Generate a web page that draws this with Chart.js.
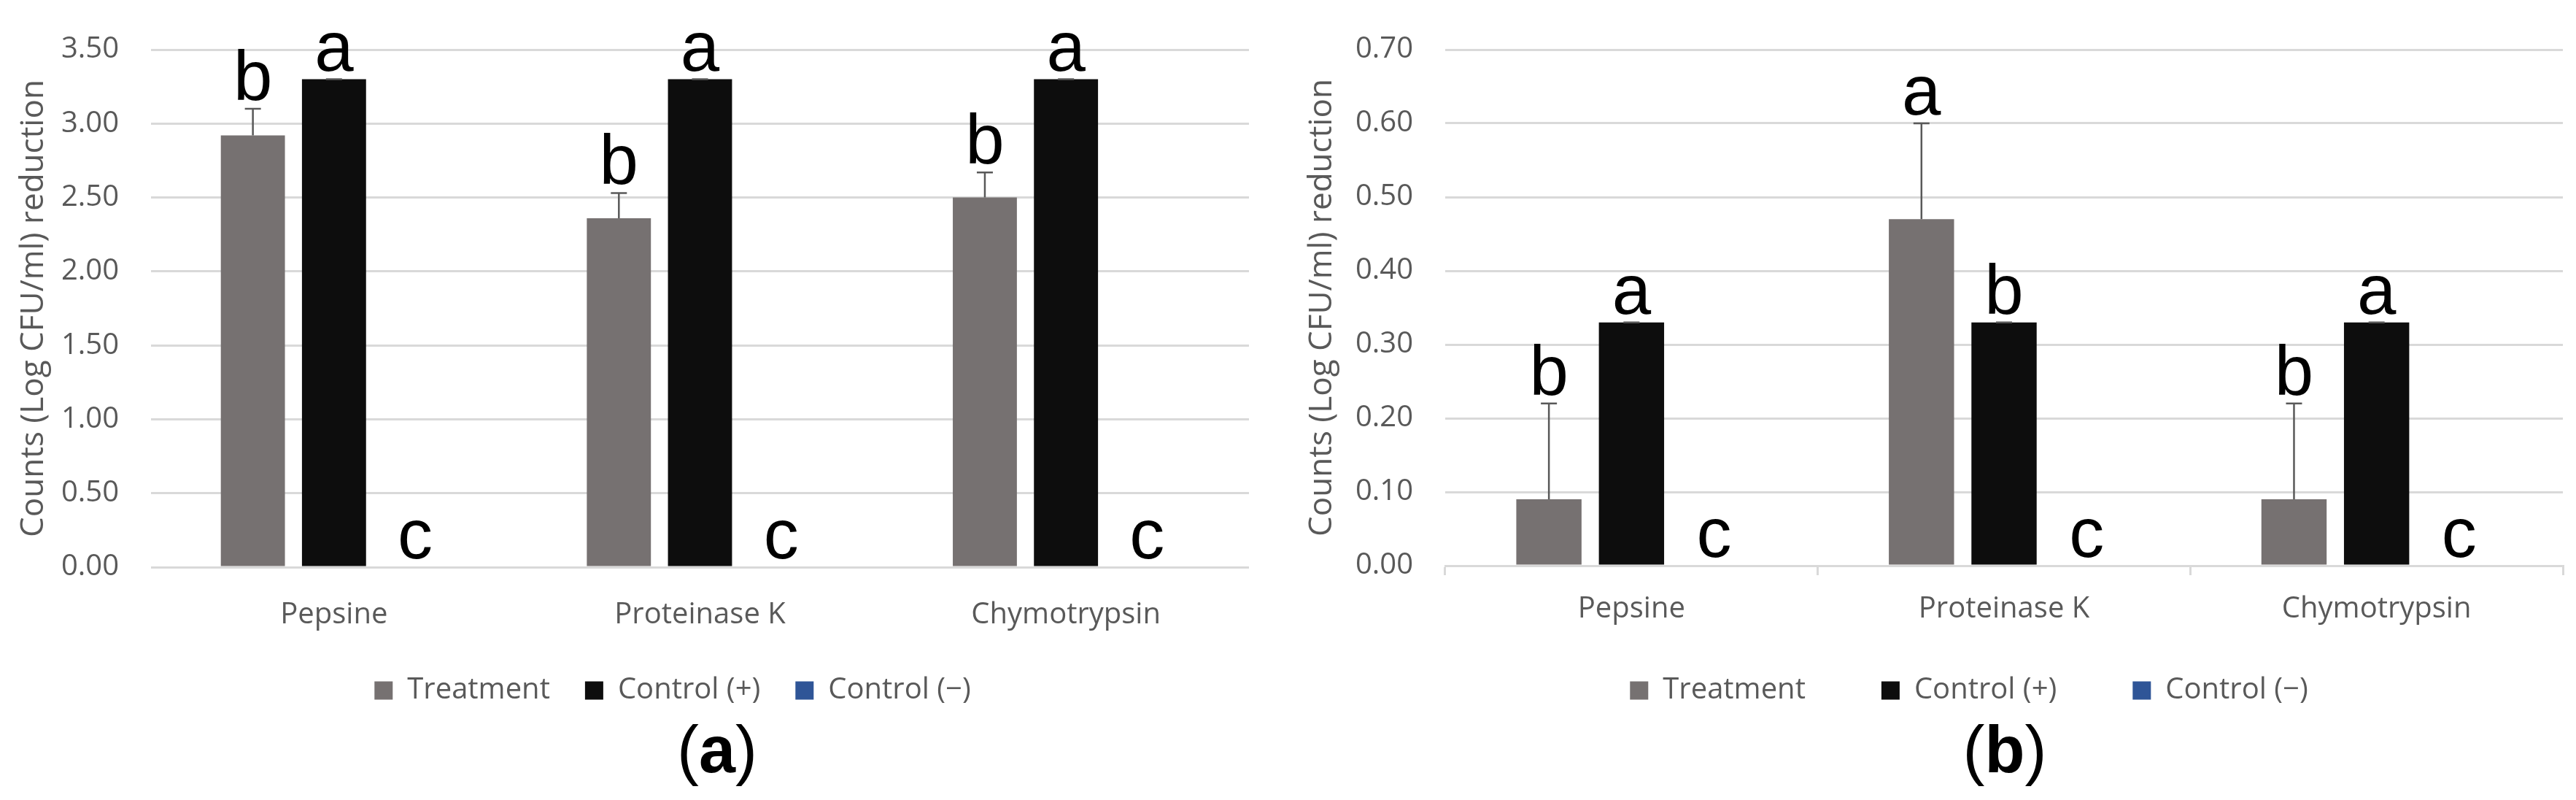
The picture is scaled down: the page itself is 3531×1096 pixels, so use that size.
<!DOCTYPE html>
<html>
<head>
<meta charset="utf-8">
<script src="https://cdn.jsdelivr.net/npm/chart.js@4.4.1/dist/chart.umd.min.js"></script>
<style>
  html, body { margin: 0; background: #fff; }
  body { width: 3531px; height: 1096px; position: relative; overflow: hidden; }
  canvas { position: absolute; top: 0; }
  #chartA { left: 0; }
  #chartB { left: 1765px; }
  .panel {
    position: absolute; top: 982px; transform: translateX(-50%);
    font-family: 'Liberation Sans', Arial, sans-serif; font-size: 90px; line-height: 1; color: #000;
  }
</style>
</head>
<body>
<canvas id="chartA" width="1844" height="976"></canvas>
<canvas id="chartB" width="1868" height="976"></canvas>
<div class="panel" style="left:983px">(<b>a</b>)</div>
<div class="panel" style="left:2748px">(<b>b</b>)</div>
<script>
// shared
const categories = ['Pepsine', 'Proteinase K', 'Chymotrypsin'];
const seriesNames = ['Treatment', 'Control (+)', 'Control (\u2212)'];
const seriesColors = ['#767171', '#0d0d0d', '#2f5597'];
const yTitle = 'Counts (Log CFU/ml) reduction';

// panel (a)
const yTicksA = [0, 0.5, 1, 1.5, 2, 2.5, 3, 3.5];
const treatmentA = [2.92, 2.36, 2.50];
const treatmentErrA = [0.18, 0.17, 0.17];
const controlPosA = [3.30, 3.30, 3.30];
const controlPosErrA = [0, 0, 0];
const controlNegA = [0, 0, 0];
const treatmentLettersA = ['b', 'b', 'b'];
const controlPosLettersA = ['a', 'a', 'a'];
const controlNegLettersA = ['c', 'c', 'c'];

// panel (b)
const yTicksB = [0, 0.1, 0.2, 0.3, 0.4, 0.5, 0.6, 0.7];
const treatmentB = [0.09, 0.47, 0.09];
const treatmentErrB = [0.13, 0.13, 0.13];
const controlPosB = [0.33, 0.33, 0.33];
const controlPosErrB = [0, 0, 0];
const controlNegB = [0, 0, 0];
const treatmentLettersB = ['b', 'a', 'b'];
const controlPosLettersB = ['a', 'b', 'a'];
const controlNegLettersB = ['c', 'c', 'c'];

const grey = '#595959';
const gridColor = '#d9d9d9';
const textFont = { family: '"Open Sans", sans-serif', size: 40 };

// error bars drawn from the y scale
const errorBars = {
  id: 'errorBars',
  afterDatasetsDraw(chart) {
    const { ctx } = chart;
    const y = chart.scales.y;
    chart.data.datasets.forEach((ds, i) => {
      if (!ds.errors) return;
      chart.getDatasetMeta(i).data.forEach((bar, j) => {
        const err = ds.errors[j];
        if (err == null) return;
        const yBase = y.getPixelForValue(ds.data[j]);
        const yTop = y.getPixelForValue(ds.data[j] + err);
        ctx.save();
        ctx.strokeStyle = grey;
        ctx.lineWidth = 2.5;
        ctx.beginPath();
        ctx.moveTo(bar.x, yBase);
        ctx.lineTo(bar.x, yTop);
        ctx.moveTo(bar.x - 11, yTop);
        ctx.lineTo(bar.x + 11, yTop);
        ctx.stroke();
        ctx.restore();
      });
    });
  }
};

// significance letters above each bar
const sigLetters = {
  id: 'sigLetters',
  afterDatasetsDraw(chart) {
    const { ctx } = chart;
    const y = chart.scales.y;
    ctx.save();
    ctx.fillStyle = '#000';
    ctx.font = '96px "Liberation Sans", Arial, sans-serif';
    ctx.textAlign = 'center';
    ctx.textBaseline = 'alphabetic';
    chart.data.datasets.forEach((ds, i) => {
      if (!ds.letters) return;
      chart.getDatasetMeta(i).data.forEach((bar, j) => {
        const top = ds.data[j] + (ds.errors && ds.errors[j] != null ? ds.errors[j] : 0);
        ctx.fillText(ds.letters[j], bar.x, y.getPixelForValue(top) - 12);
      });
    });
    ctx.restore();
  }
};

// the category labels sit lower than the x box leaves room for; widen its clip
const labelRoom = {
  id: 'labelRoom',
  afterLayout(chart) {
    const x = chart.scales.x;
    x.bottom = x.top + 120;
  }
};

function makePanel(id, p) {
  const datasets = [
    { label: seriesNames[0], data: p.treatment, errors: p.treatmentErr, letters: p.treatmentLetters },
    { label: seriesNames[1], data: p.controlPos, errors: p.controlPosErr, letters: p.controlPosLetters },
    { label: seriesNames[2], data: p.controlNeg, errors: null, letters: p.controlNegLetters }
  ].map((d, i) => Object.assign(d, {
    backgroundColor: seriesColors[i],
    borderWidth: 0,
    categoryPercentage: 0.665,
    barPercentage: 0.79
  }));

  return new Chart(document.getElementById(id), {
    type: 'bar',
    data: { labels: categories, datasets },
    plugins: [errorBars, sigLetters, labelRoom],
    options: {
      responsive: false,
      devicePixelRatio: 1,
      animation: false,
      layout: { padding: { top: p.padTop, right: 0, left: 0, bottom: 0 } },
      plugins: {
        tooltip: { enabled: false },
        legend: {
          position: 'bottom',
          labels: {
            boxWidth: 25,
            boxHeight: 25,
            padding: p.legendPad,
            color: grey,
            font: textFont
          }
        }
      },
      scales: {
        x: {
          grid: p.xTicks
            ? { display: true, drawOnChartArea: false, drawTicks: true, tickLength: 13, color: gridColor, lineWidth: 3, offset: true }
            : { display: false },
          border: p.xTicks ? { display: true, color: gridColor, width: 3 } : { display: false },
          ticks: { color: grey, font: textFont, padding: p.xLabelPad, maxRotation: 0 },
          afterFit(s) { s.height = p.xHeight; }
        },
        y: {
          min: p.yTicks[0],
          max: p.yTicks[p.yTicks.length - 1],
          grid: { color: gridColor, lineWidth: 3, drawTicks: false },
          border: { display: false },
          ticks: {
            stepSize: p.yTicks[1] - p.yTicks[0],
            color: grey,
            font: textFont,
            padding: 44,
            callback: v => Number(v).toFixed(2)
          },
          title: {
            display: true,
            text: yTitle,
            color: grey,
            font: { family: '"Open Sans", sans-serif', size: 44 },
            padding: { top: p.titlePad, bottom: 0 }
          },
          afterFit(s) { s.width = p.yWidth; }
        },
        // empty right-hand box so the legend centres like the original
        pad: {
          type: 'linear',
          position: 'right',
          display: true,
          grid: { display: false },
          border: { display: false },
          ticks: { display: false },
          afterFit(s) { s.width = p.rightPad; }
        }
      }
    }
  });
}

makePanel('chartA', {
  treatment: treatmentA, treatmentErr: treatmentErrA, treatmentLetters: treatmentLettersA,
  controlPos: controlPosA, controlPosErr: controlPosErrA, controlPosLetters: controlPosLettersA,
  controlNeg: controlNegA, controlNegLetters: controlNegLettersA,
  yTicks: yTicksA,
  padTop: 52, yWidth: 207, rightPad: 132, xHeight: 101,
  legendPad: 48, xLabelPad: 34, xTicks: false, titlePad: 20
});

makePanel('chartB', {
  treatment: treatmentB, treatmentErr: treatmentErrB, treatmentLetters: treatmentLettersB,
  controlPos: controlPosB, controlPosErr: controlPosErrB, controlPosLetters: controlPosLettersB,
  controlNeg: controlNegB, controlNegLetters: controlNegLettersB,
  yTicks: yTicksB,
  padTop: 64, yWidth: 216, rightPad: 120, xHeight: 47,
  legendPad: 104, xLabelPad: 23, xTicks: true, titlePad: 21
});
</script>
</body>
</html>
